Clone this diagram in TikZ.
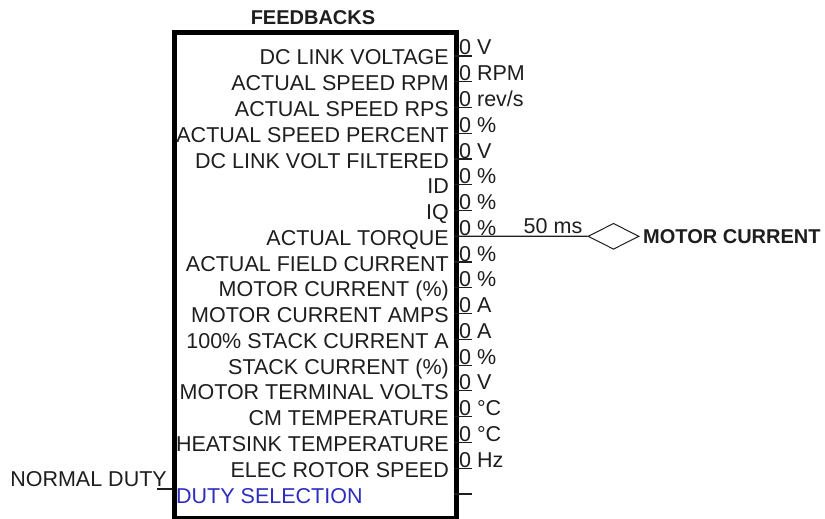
\documentclass[tikz,border=0pt]{standalone}
\usepackage{fontspec}
\setmainfont{Liberation Sans}
\usetikzlibrary{shapes.geometric}
\definecolor{txt}{RGB}{30,30,30}
\definecolor{duty}{RGB}{45,45,190}
\tikzset{
  lbl/.style={inner sep=0pt, text=txt, font=\fontsize{21.5}{24}\selectfont},
  bold/.style={inner sep=0pt, text=txt, font=\fontsize{20}{24}\selectfont\bfseries},
  stub/.style={draw=txt, line width=1.2pt},
  blockbox/.style={draw=black, line width=4.8pt, inner sep=0pt, anchor=north west}
}
\begin{document}
\begin{tikzpicture}[x=1pt,y=-1pt]
\useasboundingbox (0,0) rectangle (825,519);
\fill[white] (0,0) rectangle (825,519);
% block
\node[blockbox, minimum width=282pt, minimum height=486pt] (fb) at (172,30) {};
\node[bold, anchor=base] (title) at (313,25) {FEEDBACKS};
% rows
\foreach \lab/\unit [count=\i from 0] in {
  DC LINK VOLTAGE/V,
  ACTUAL SPEED RPM/RPM,
  ACTUAL SPEED RPS/{rev/s},
  ACTUAL SPEED PERCENT/\%,
  DC LINK VOLT FILTERED/V,
  ID/\%,
  IQ/\%,
  ACTUAL TORQUE/\%,
  ACTUAL FIELD CURRENT/\%,
  MOTOR CURRENT (\%)/\%,
  MOTOR CURRENT AMPS/A,
  100\% STACK CURRENT A/A,
  STACK CURRENT (\%)/\%,
  MOTOR TERMINAL VOLTS/V,
  CM TEMPERATURE/°C,
  HEATSINK TEMPERATURE/°C,
  ELEC ROTOR SPEED/Hz}{
  \pgfmathsetmacro\yy{56+25.76*\i}
  \coordinate (p\i) at (454,\yy);
  \coordinate (e\i) at (472,\yy);
  \draw[stub] (p\i) -- (e\i);
  \node[lbl, anchor=base east] (l\i) at (449,\yy+9) {\lab};
  \node[lbl, anchor=base west] (v\i) at (459,\yy-1) {0 \unit};
}
% duty selection row
\coordinate (p17) at (454,494);
\coordinate (e17) at (472,494);
\draw[stub] (p17) -- (e17);
\node[lbl, text=duty, anchor=base west] (l17) at (176,503) {DUTY SELECTION};
% input
\node[lbl, anchor=base east] (nd) at (167,486) {NORMAL DUTY};
\coordinate (ndl) at (157,489);
\coordinate (ndr) at (172,489);
\draw[stub] (ndl) -- (ndr);
% motor current output
\node[draw=txt, line width=1pt, diamond, aspect=2, inner sep=0pt,
      minimum width=51pt, minimum height=26pt] (dia) at (613.5,236.3) {};
\draw[stub] (p7) -- (dia.west);
\node[lbl, anchor=base] (ms) at (553,233) {50 ms};
\node[bold, anchor=base west] (mc) at (643,243) {MOTOR CURRENT};
\end{tikzpicture}
\end{document}
